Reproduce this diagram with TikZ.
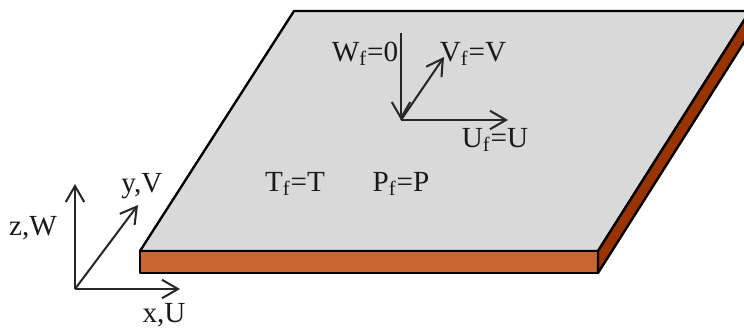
\documentclass[tikz,border=0pt]{standalone}
\usepackage{fontspec}
\setmainfont{Liberation Serif}
\usetikzlibrary{arrows.meta}

\begin{document}
\begin{tikzpicture}[x=0.02cm,y=-0.02cm,
			edge/.style={draw=black,line width=1.35pt,line join=round},
			vec/.style={-{Straight Barb[length=3.2mm,width=3.7mm,line width=1.15pt]},draw=black!85,line width=1.15pt},
			lab/.style={font=\fontsize{16.6}{18}\selectfont,inner sep=0pt,text=black!90}]
			\useasboundingbox (0,0) rectangle (744,329);
			\clip (0,0) rectangle (744,329);
			%% corners of the plate
			\coordinate (tl) at (294,11);
			\coordinate (tr) at (750,11);
			\coordinate (fl) at (140,251);
			\coordinate (fr) at (598,251);
			\coordinate (bl) at (140,273);
			\coordinate (br) at (598,273);
			\coordinate (rr) at (750,33);
			\draw[edge,fill=black!15] (fl) -- (tl) -- (tr) -- (fr) -- cycle;
			\draw[edge,fill={rgb,255:red,201;green,101;blue,50}] (fl) -- (fr) -- (br) -- (bl) -- cycle;
			\draw[edge,fill={rgb,255:red,153;green,51;blue,0}] (fr) -- (tr) -- (rr) -- (br) -- cycle;
			%% vectors on the plate
			\coordinate (po) at (401,120);
			\coordinate (pw) at (401,33);
			\coordinate (pv) at (444,57);
			\coordinate (pu) at (508,120);
			\draw[vec] (pw) -- (po);
			\draw[vec] (po) -- (pv);
			\draw[vec] (po) -- (pu);
			\node[lab] (wf) at (365,54) {W\textsubscript{f}=0};
			\node[lab] (vf) at (473,54) {V\textsubscript{f}=V};
			\node[lab] (uf) at (495,140) {U\textsubscript{f}=U};
			\node[lab] (tf) at (295,184) {T\textsubscript{f}=T};
			\node[lab] (pf) at (401,184) {P\textsubscript{f}=P};
			%% axes
			\coordinate (ao) at (75,289);
			\coordinate (az) at (75,184);
			\coordinate (ay) at (138,205);
			\coordinate (ax) at (180,289);
			\draw[vec] (ao) -- (az);
			\draw[vec] (ao) -- (ay);
			\draw[vec] (ao) -- (ax);
			\node[lab] (zw) at (33,228) {z,W};
			\node[lab] (yv) at (142,186) {y,V};
			\node[lab] (xu) at (164,315) {x,U};
		\end{tikzpicture}
\end{document}
